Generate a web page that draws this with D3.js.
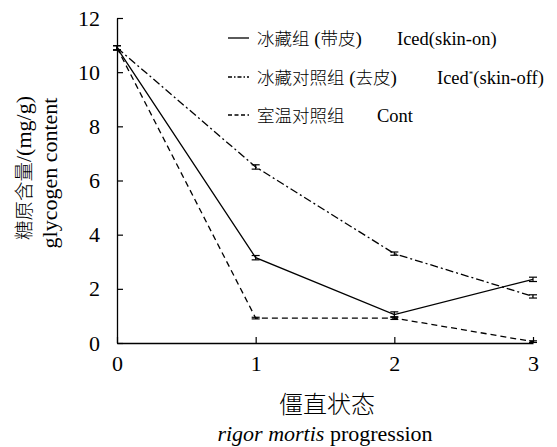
<!DOCTYPE html>
<html><head><meta charset="utf-8">
<script src="https://cdn.jsdelivr.net/npm/d3@7"></script>
<style>body{margin:0;background:#fff}</style>
</head><body><svg id="c" width="557" height="447"></svg>
<script>
const stages = [0, 1, 2, 3];
const xTicks = [0, 1, 2, 3];
const yTicks = [0, 2, 4, 6, 8, 10, 12];
const icedSkinOn = [10.9, 3.15, 1.05, 2.35];
const icedSkinOnErr = [0.08, 0.08, 0.1, 0.08];
const icedSkinOff = [10.9, 6.5, 3.3, 1.72];
const icedSkinOffErr = [0.08, 0.08, 0.06, 0.06];
const control = [10.9, 0.92, 0.92, 0.05];
const controlErr = [0.08, 0.03, 0.05, 0.03];
// legend label parts: [text, isCJK]
const seriesNames = [
  [["冰藏组", 1], [" (", 0], ["带皮", 1], [")", 0]],
  [["冰藏对照组", 1], [" (", 0], ["去皮", 1], [")", 0]],
  [["室温对照组", 1]]
];
const seriesEn = ["Iced(skin-on)", "Iced", "Cont"];

const SERIF = '"Liberation Serif"';
const CJK = '"Noto Sans CJK SC"';
const CJKW = 300;
const svg = d3.select("#c");
const x = d3.scaleLinear().domain([0, 3]).range([117, 533]);
const y = d3.scaleLinear().domain([0, 12]).range([343, 18]);

const xa = svg.append("g").attr("transform", `translate(0,${y(0)})`)
  .call(d3.axisBottom(x).tickValues(xTicks).tickSizeInner(-6).tickSizeOuter(0).tickPadding(12).tickFormat(d3.format("d")));
const ya = svg.append("g").attr("transform", `translate(${x(0)},0)`)
  .call(d3.axisLeft(y).tickValues(yTicks).tickSizeInner(-6).tickSizeOuter(0).tickPadding(17).tickFormat(d3.format("d")));
[xa, ya].forEach(g => {
  g.attr("font-family", SERIF).attr("font-size", 22);
  g.select(".domain").attr("stroke", "#000").attr("stroke-width", 1.3);
  g.selectAll(".tick line").attr("stroke", "#000").attr("stroke-width", 1.2);
  g.selectAll(".tick text").attr("fill", "#000").style("font-family", SERIF).style("font-size", "22px");
});

const series = [
  {v: icedSkinOn, e: icedSkinOnErr, dash: null},
  {v: icedSkinOff, e: icedSkinOffErr, dash: "8,3,2,3"},
  {v: control, e: controlErr, dash: "6,4"}
];
const line = d3.line().x((d, i) => x(stages[i])).y(d => y(d));
series.forEach(s => {
  svg.append("path").datum(s.v).attr("d", line).attr("fill", "none")
    .attr("stroke", "#000").attr("stroke-width", 1.3)
    .attr("stroke-dasharray", s.dash);
  const g = svg.append("g");
  s.v.forEach((v, i) => {
    const cx = x(stages[i]);
    g.append("line").attr("x1", cx).attr("x2", cx).attr("y1", y(v - s.e[i])).attr("y2", y(v + s.e[i])).attr("stroke", "#000").attr("stroke-width", 1.2);
    [v - s.e[i], v + s.e[i]].forEach(t => g.append("line").attr("x1", cx - 4).attr("x2", cx + 4).attr("y1", y(t)).attr("y2", y(t)).attr("stroke", "#000").attr("stroke-width", 1.2));
  });
});

const legY = [38, 77, 115];
const enX = [397, 437, 377];
series.forEach((s, i) => {
  svg.append("line").attr("x1", 228).attr("x2", 249).attr("y1", legY[i]).attr("y2", legY[i])
    .attr("stroke", "#000").attr("stroke-width", 1.3).attr("stroke-dasharray", i === 0 ? null : (i === 1 ? "4,2,1.5,2" : "4,2.5"));
  const lt = svg.append("text").attr("x", 257).attr("y", legY[i] + 7);
  seriesNames[i].forEach(([txt, c]) => lt.append("tspan").style("font-family", c ? CJK : SERIF)
    .style("font-weight", c ? CJKW : null)
    .style("font-size", c ? "17.5px" : "19px").text(txt));
  const t = svg.append("text").attr("x", enX[i]).attr("y", legY[i] + 7).style("font-family", SERIF).style("font-size", "18.5px");
  if (i === 1) {
    t.append("tspan").text("Iced");
    t.append("tspan").attr("dy", -7).style("font-size", "9px").text("*");
    t.append("tspan").attr("dy", 7).text("(skin-off)");
  } else t.text(seriesEn[i]);
});

const yl = svg.append("text").attr("transform", "translate(31,168) rotate(-90)").attr("text-anchor", "middle");
yl.append("tspan").style("font-family", CJK).style("font-weight", CJKW).style("font-size", "19.5px").text("糖原含量");
yl.append("tspan").style("font-family", SERIF).style("font-size", "22px").text("/(mg/g)");
svg.append("text").attr("transform", "translate(57,173) rotate(-90)").attr("text-anchor", "middle")
  .style("font-family", SERIF).style("font-size", "22px").text("glycogen content");
svg.append("text").attr("x", 327).attr("y", 413).attr("text-anchor", "middle")
  .style("font-family", CJK).style("font-weight", CJKW).style("font-size", "24px").text("僵直状态");
const t2 = svg.append("text").attr("x", 325).attr("y", 441).attr("text-anchor", "middle")
  .style("font-family", SERIF).style("font-size", "22px");
t2.append("tspan").style("font-style", "italic").text("rigor mortis");
t2.append("tspan").text(" progression");
</script></body></html>
